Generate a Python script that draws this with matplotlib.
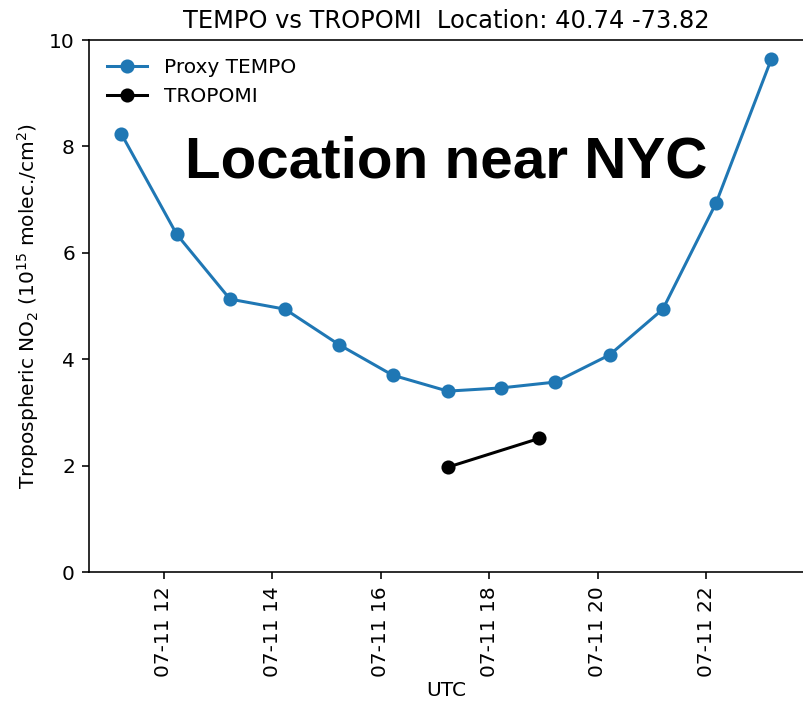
import matplotlib
matplotlib.use("Agg")
import matplotlib.pyplot as plt
import matplotlib.dates as mdates
import pandas as pd

tempo_times = ["2023-07-11 11:13", "2023-07-11 12:14", "2023-07-11 13:13", "2023-07-11 14:14",
               "2023-07-11 15:14", "2023-07-11 16:13", "2023-07-11 17:14", "2023-07-11 18:13",
               "2023-07-11 19:13", "2023-07-11 20:13", "2023-07-11 21:12", "2023-07-11 22:11",
               "2023-07-11 23:12"]
tempo_no2 = [8.23, 6.35, 5.13, 4.94, 4.27, 3.70, 3.40, 3.46, 3.57, 4.08, 4.94, 6.94, 9.64]
tropomi_times = ["2023-07-11 17:14", "2023-07-11 18:55"]
tropomi_no2 = [1.97, 2.51]

DPI = 145
fig = plt.figure(figsize=(803 / DPI, 702 / DPI), dpi=DPI)
ax = fig.add_axes([89 / 803, 1 - 572 / 702, 1 - 89 / 803 + 0.001, (572 - 40) / 702])

ax.plot(pd.to_datetime(tempo_times), tempo_no2, marker="o", color="#1f77b4", label="Proxy TEMPO")
ax.plot(pd.to_datetime(tropomi_times), tropomi_no2, marker="o", color="black", label="TROPOMI")

ax.set_ylim(0, 10)
ax.spines["right"].set_visible(False)
ax.xaxis.set_major_locator(mdates.HourLocator(byhour=range(0, 24, 2)))
ax.xaxis.set_major_formatter(mdates.DateFormatter("%m-%d %H"))
plt.setp(ax.get_xticklabels(), rotation=90)
ax.set_xlabel("UTC", labelpad=2)
ax.set_ylabel("Tropospheric NO$_2$ (10$^{15}$ molec./cm$^2$)")
ax.set_title("TEMPO vs TROPOMI  Location: 40.74 -73.82")
ax.legend(loc="upper left", frameon=False)

fig.text(185 / 803, 1 - 178 / 702, "Location near NYC", family="Liberation Sans",
         fontweight="bold", fontsize=29, ha="left", va="baseline", color="black")

fig.savefig("out.png", dpi=DPI)
